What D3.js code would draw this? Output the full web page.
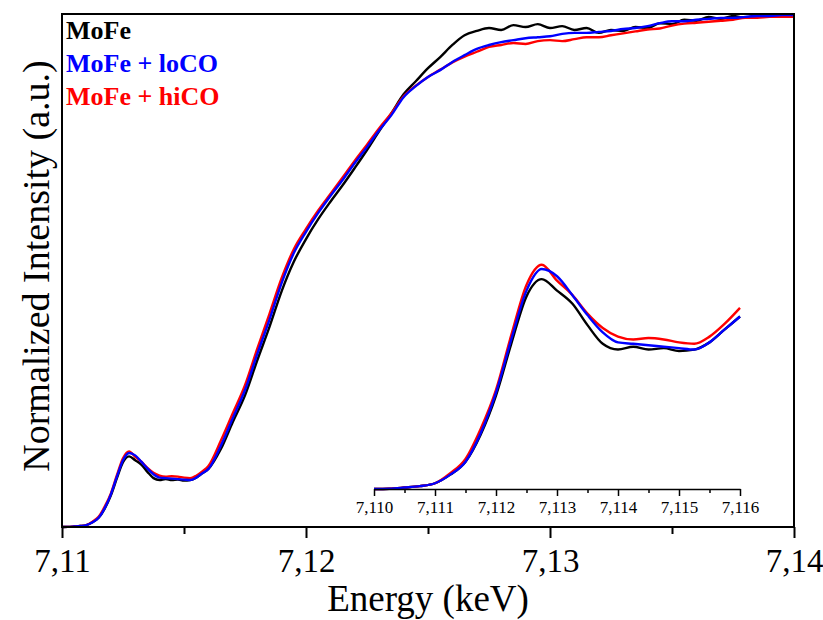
<!DOCTYPE html>
<html>
<head>
<meta charset="utf-8">
<script src="https://cdnjs.cloudflare.com/ajax/libs/d3/7.8.5/d3.min.js"></script>
<style>
    body { margin: 0; background: #fff; }
    svg { display: block; }
</style>
</head>
<body>
<div id="chart"></div>
<script>
// Energy grid (keV)
const energy = [
    7.11000, 7.11025, 7.11050, 7.11075, 7.11100, 7.11125, 7.11150, 7.11175, 7.11200, 7.11225,
    7.11250, 7.11275, 7.11300, 7.11325, 7.11350, 7.11375, 7.11400, 7.11425, 7.11450, 7.11475,
    7.11500, 7.11525, 7.11550, 7.11575, 7.11600,
    7.1165, 7.1170, 7.1175, 7.1180, 7.1185, 7.1190, 7.1195, 7.1200, 7.1205, 7.1210,
    7.1215, 7.1220, 7.1225, 7.1230, 7.1235, 7.1240, 7.1245, 7.1250, 7.1255, 7.1260,
    7.1265, 7.1270, 7.1275, 7.1280, 7.1285, 7.1290, 7.1295, 7.1300, 7.1305, 7.1310,
    7.1315, 7.1320, 7.1325, 7.1330, 7.1335, 7.1340, 7.1345, 7.1350, 7.1355, 7.1360,
    7.1365, 7.1370, 7.1375, 7.1380, 7.1385, 7.1390, 7.1395, 7.1400
];

// Normalized intensity, one list per sample
const mofe = [
    0, 0.0002, 0.001, 0.002, 0.004, 0.010, 0.019, 0.038, 0.065, 0.101,
    0.134, 0.146, 0.138, 0.129, 0.114, 0.101, 0.097, 0.099, 0.097, 0.098,
    0.096, 0.097, 0.102, 0.111, 0.120,
    0.160, 0.217, 0.272, 0.344, 0.413, 0.487, 0.548, 0.595, 0.636, 0.672,
    0.706, 0.742, 0.779, 0.818, 0.855, 0.894, 0.921, 0.948, 0.971, 0.996,
    1.016, 1.025, 1.031, 1.027, 1.037, 1.033, 1.039, 1.031, 1.035, 1.027,
    1.031, 1.021, 1.027, 1.025, 1.033, 1.031, 1.041, 1.039, 1.048, 1.046,
    1.054, 1.050, 1.056, 1.052, 1.058, 1.056, 1.057, 1.054
];
const loCO = [
    0, 0.0002, 0.001, 0.002, 0.004, 0.010, 0.019, 0.039, 0.067, 0.104,
    0.138, 0.153, 0.148, 0.135, 0.121, 0.109, 0.102, 0.101, 0.100, 0.099,
    0.098, 0.097, 0.102, 0.111, 0.120,
    0.167, 0.225, 0.283, 0.357, 0.428, 0.504, 0.566, 0.610, 0.649, 0.684,
    0.717, 0.752, 0.785, 0.820, 0.851, 0.888, 0.911, 0.930, 0.944, 0.961,
    0.975, 0.988, 0.996, 1.002, 1.006, 1.010, 1.012, 1.014, 1.019, 1.021,
    1.021, 1.023, 1.025, 1.029, 1.031, 1.035, 1.041, 1.045, 1.045, 1.048,
    1.050, 1.052, 1.052, 1.054, 1.056, 1.056, 1.058, 1.058
];
const hiCO = [
    0, 0.0002, 0.001, 0.002, 0.004, 0.011, 0.021, 0.042, 0.069, 0.107,
    0.142, 0.156, 0.145, 0.135, 0.122, 0.112, 0.106, 0.104, 0.105, 0.104,
    0.102, 0.101, 0.106, 0.115, 0.126,
    0.177, 0.235, 0.293, 0.368, 0.440, 0.514, 0.574, 0.616, 0.654, 0.688,
    0.722, 0.757, 0.790, 0.824, 0.855, 0.890, 0.912, 0.930, 0.945, 0.960,
    0.972, 0.982, 0.992, 0.996, 1.000, 0.998, 1.004, 1.006, 1.004, 1.008,
    1.012, 1.012, 1.016, 1.020, 1.024, 1.028, 1.030, 1.036, 1.040, 1.042,
    1.044, 1.046, 1.048, 1.052, 1.052, 1.054, 1.054, 1.054
];

const seriesNames = ["MoFe", "MoFe + loCO", "MoFe + hiCO"];
const seriesColors = ["#000000", "#0000ff", "#ff0000"];

const mainTicks = [7.11, 7.12, 7.13, 7.14];
const mainMinorTicks = [7.115, 7.125, 7.135];
const insetTicks = [7.110, 7.111, 7.112, 7.113, 7.114, 7.115, 7.116];
const insetMinorTicks = [7.1105, 7.1115, 7.1125, 7.1135, 7.1145, 7.1155];

const serif = "'Liberation Serif', 'Times New Roman', serif";

// comma as decimal separator
const locale = d3.formatLocale({ decimal: ",", thousands: ".", grouping: [3], currency: ["", ""] });
const fmtMain = locale.format(".2f");
const fmtInset = locale.format(".3f");

const margin = { top: 14, right: 29, bottom: 93, left: 62 },
    width = 823 - margin.left - margin.right,
    height = 620 - margin.top - margin.bottom;

const svg = d3.select("#chart")
    .append("svg")
    .attr("width", width + margin.left + margin.right)
    .attr("height", height + margin.top + margin.bottom)
    .append("g")
    .attr("transform", "translate(" + margin.left + "," + margin.top + ")");

// main scales
const x = d3.scaleLinear().domain([7.11, 7.14]).range([0, width]);
const y = d3.scaleLinear().domain([0, 1.06]).range([height, 0]);

// inset scales (pre-edge region)
const xi = d3.scaleLinear().domain([7.110, 7.116]).range([312, 678]);
const yi = d3.scaleLinear().domain([0, 0.16]).range([475, 245]);

// draw order: black, red, blue on top
const series = [mofe, hiCO, loCO].map((vals, i) => ({
    color: ["#000000", "#ff0000", "#0000ff"][i],
    points: energy.map((e, j) => ({ e: e, v: vals[j] }))
}));

const line = d3.line()
    .x(d => x(d.e))
    .y(d => y(d.v))
    .curve(d3.curveMonotoneX);

const insetLine = d3.line()
    .x(d => xi(d.e))
    .y(d => yi(d.v))
    .curve(d3.curveMonotoneX);

// main curves
series.forEach(s => {
    svg.append("path")
        .datum(s.points)
        .attr("fill", "none")
        .attr("stroke", s.color)
        .attr("stroke-width", 2.4)
        .attr("stroke-linejoin", "round")
        .attr("d", line);
});

// inset curves
series.forEach(s => {
    svg.append("path")
        .datum(s.points.filter(d => d.e <= 7.1160001))
        .attr("fill", "none")
        .attr("stroke", s.color)
        .attr("stroke-width", 2.4)
        .attr("stroke-linejoin", "round")
        .attr("d", insetLine);
});

// main x-axis
const xAxis = svg.append("g")
    .attr("transform", "translate(0," + height + ")")
    .call(d3.axisBottom(x).tickValues(mainTicks).tickSize(11).tickSizeOuter(0).tickFormat(fmtMain));
xAxis.select(".domain").remove();
xAxis.selectAll("line").attr("stroke", "#000").attr("stroke-width", 2);
xAxis.selectAll("text")
    .attr("y", 45)
    .attr("dy", 0)
    .attr("fill", "#000")
    .style("font-family", serif)
    .style("font-size", "33px");

const xMinor = svg.append("g")
    .attr("transform", "translate(0," + height + ")")
    .call(d3.axisBottom(x).tickValues(mainMinorTicks).tickSize(7).tickSizeOuter(0).tickFormat(""));
xMinor.select(".domain").remove();
xMinor.selectAll("line").attr("stroke", "#000").attr("stroke-width", 2);

// frame
svg.append("rect")
    .attr("x", 0)
    .attr("y", 0)
    .attr("width", width)
    .attr("height", height)
    .attr("fill", "none")
    .attr("stroke", "#000")
    .attr("stroke-width", 2);

// inset axis
const insetAxis = svg.append("g")
    .attr("transform", "translate(0,475)")
    .call(d3.axisBottom(xi).tickValues(insetTicks).tickSize(7).tickSizeOuter(0).tickFormat(fmtInset));
insetAxis.select(".domain").attr("stroke", "#000").attr("stroke-width", 1.5);
insetAxis.selectAll("line").attr("stroke", "#000").attr("stroke-width", 1.5);
insetAxis.selectAll("text")
    .attr("y", 24)
    .attr("dy", 0)
    .attr("fill", "#000")
    .style("font-family", serif)
    .style("font-size", "17px");

const insetMinor = svg.append("g")
    .attr("transform", "translate(0,475)")
    .call(d3.axisBottom(xi).tickValues(insetMinorTicks).tickSize(4).tickSizeOuter(0).tickFormat(""));
insetMinor.select(".domain").remove();
insetMinor.selectAll("line").attr("stroke", "#000").attr("stroke-width", 1.5);

// axis labels
svg.append("text")
    .attr("x", 366)
    .attr("y", 597)
    .style("text-anchor", "middle")
    .style("font-family", serif)
    .style("font-size", "37px")
    .text("Energy (keV)");

svg.append("text")
    .attr("transform", "rotate(-90)")
    .attr("x", -252)
    .attr("y", -13)
    .style("text-anchor", "middle")
    .style("font-family", serif)
    .style("font-size", "38px")
    .text("Normalized Intensity (a.u.)");

// legend
svg.selectAll(".legend")
    .data(seriesNames)
    .enter().append("text")
    .attr("class", "legend")
    .attr("x", 4)
    .attr("y", (d, i) => 25 + i * 33)
    .style("font-family", serif)
    .style("font-size", "26px")
    .style("font-weight", "bold")
    .style("fill", (d, i) => seriesColors[i])
    .text(d => d);
</script>
</body>
</html>
